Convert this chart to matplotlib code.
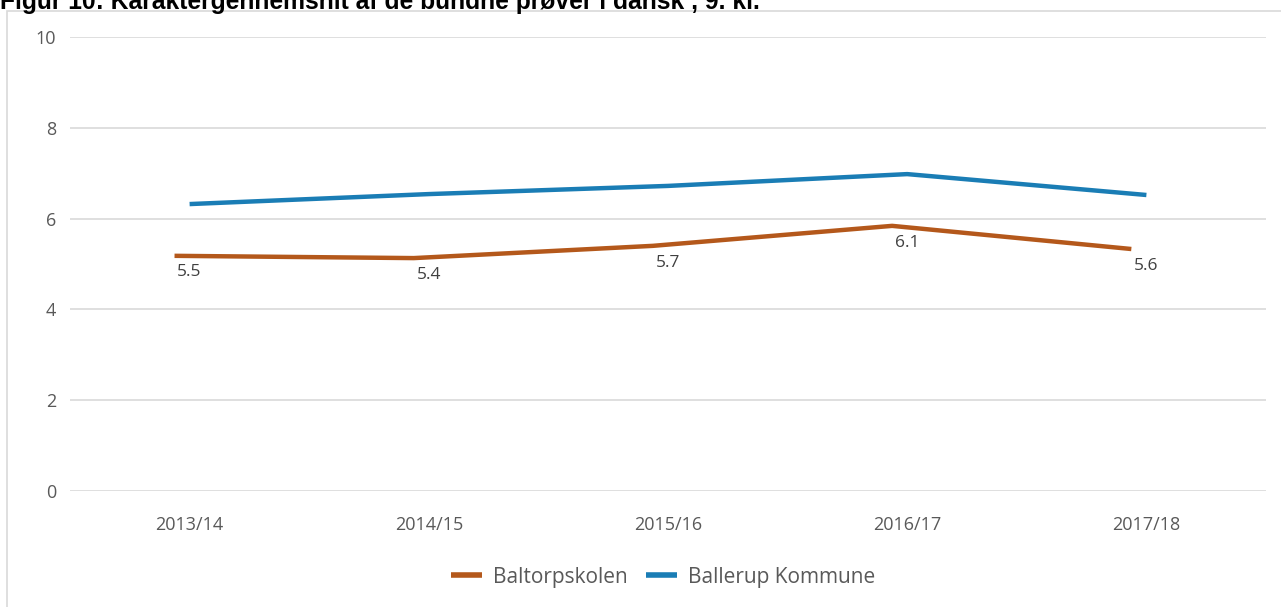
import numpy as np
import matplotlib.pyplot as plt
from matplotlib.patches import Rectangle

years = ["2013/14", "2014/15", "2015/16", "2016/17", "2017/18"]
baltorp = [5.18, 5.13, 5.40, 5.84, 5.33]
ballerup = [6.32, 6.54, 6.72, 6.98, 6.52]
baltorp_labels = ["5.5", "5.4", "5.7", "6.1", "5.6"]

TITLE = "Figur 10: Karaktergennemsnit af de bundne prøver i dansk , 9. kl."
ORANGE = "#b4581b"
BLUE = "#1a7db5"
GRID = "#d9d9d9"
TEXT = "#595959"

plt.rcParams["font.family"] = ["Open Sans", "DejaVu Sans"]

W, H = 1281, 607
fig = plt.figure(figsize=(W / 100, H / 100), dpi=100)

# chart frame (cut at right and bottom like the screenshot)
fig.patches.append(Rectangle((7 / W, -0.1), 1.2, (H - 11) / H + 0.1,
                             transform=fig.transFigure, fill=False,
                             edgecolor=GRID, linewidth=1.2))

fig.text(0, 1 - 9 / H, TITLE, fontsize=17.7, fontweight="bold",
         family="Liberation Sans", va="baseline", ha="left", color="black")

ax = fig.add_axes([70 / W, 1 - 491 / H, (1266 - 70) / W, (491 - 37) / H])
x = np.arange(len(years))

# orange series sits a little left of the category centre in the original
ax.plot(x - 0.063, baltorp, color=ORANGE, linewidth=3.2,
        solid_capstyle="butt", label="Baltorpskolen")
ax.plot(x, ballerup, color=BLUE, linewidth=3.2,
        solid_capstyle="butt", label="Ballerup Kommune")

for i, (v, lab) in enumerate(zip(baltorp, baltorp_labels)):
    ax.annotate(lab, (i, v), xytext=(0, -12), textcoords="offset points",
                ha="center", va="center", fontsize=12.5, color="#404040")

ax.set_xlim(-0.5, len(years) - 0.5)
ax.set_ylim(0, 10)
ax.set_yticks(range(0, 11, 2))
ax.set_xticks(x)
ax.set_xticklabels(years)
ax.grid(axis="y", color=GRID, linewidth=1.2)
ax.set_axisbelow(True)
for s in ax.spines.values():
    s.set_visible(False)
ax.tick_params(length=0, labelsize=13, colors=TEXT)
ax.tick_params(axis="y", pad=10)
ax.tick_params(axis="x", pad=18)

fig.legend(loc="center", bbox_to_anchor=(663 / W, 1 - 577 / H), ncol=2,
           frameon=False, fontsize=15, handlelength=1.5, handletextpad=0.5,
           columnspacing=0.9, labelcolor=TEXT)
for ln in fig.legends[0].get_lines():
    ln.set_linewidth(4)

fig.savefig("out.png", dpi=100)
